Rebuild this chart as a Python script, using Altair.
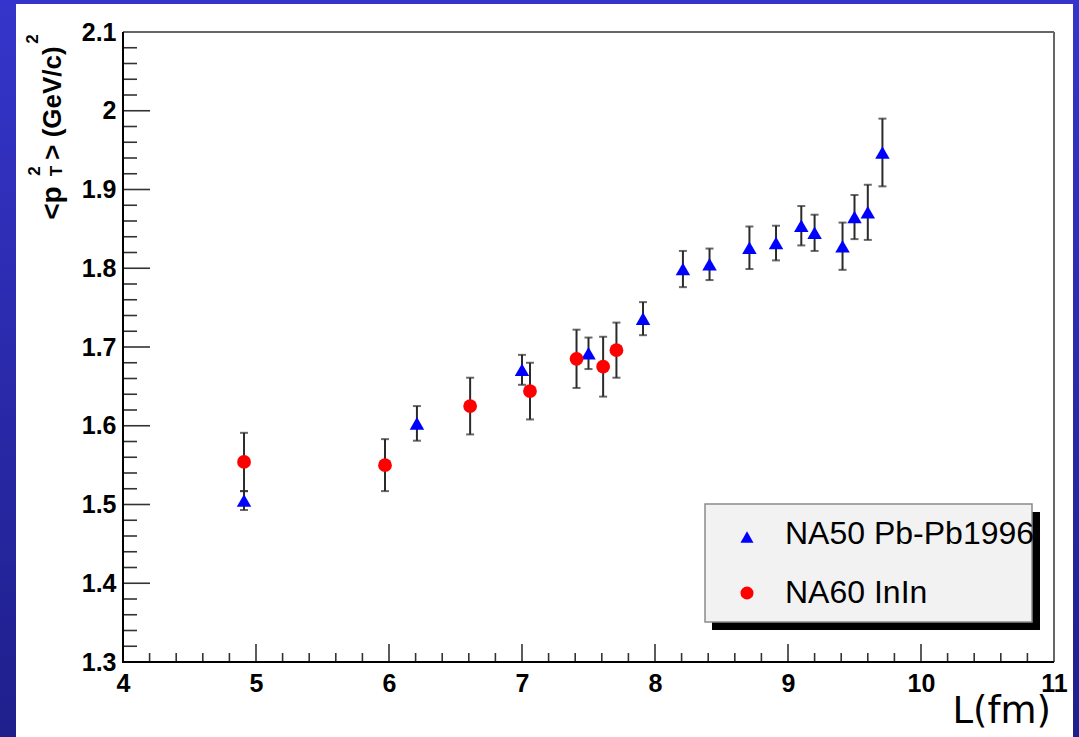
import altair as alt
import pandas as pd

# NA50 Pb-Pb 1996: path length L (fm), <pT^2> (GeV/c)^2 and its error
na50_L = [4.91, 6.21, 7.0, 7.5, 7.91, 8.21, 8.41, 8.71, 8.91, 9.1, 9.2, 9.41, 9.5, 9.6, 9.71]
na50_pt2 = [1.505, 1.603, 1.671, 1.692, 1.736, 1.799, 1.805, 1.826, 1.832, 1.854,
            1.845, 1.828, 1.865, 1.871, 1.947]
na50_err = [0.012, 0.022, 0.019, 0.020, 0.021, 0.023, 0.020, 0.027, 0.022, 0.025,
            0.023, 0.030, 0.028, 0.035, 0.043]

# NA60 In-In
na60_L = [4.91, 5.97, 6.61, 7.06, 7.41, 7.61, 7.71]
na60_pt2 = [1.554, 1.550, 1.625, 1.644, 1.685, 1.675, 1.696]
na60_err = [0.037, 0.033, 0.036, 0.036, 0.037, 0.038, 0.035]

# axis ticks
X_MAJOR = [4, 5, 6, 7, 8, 9, 10, 11]
Y_MAJOR = [1.3, 1.4, 1.5, 1.6, 1.7, 1.8, 1.9, 2.0, 2.1]
X_MINOR = [round(m + k * 0.2, 2) for m in X_MAJOR[:-1] for k in range(1, 5)]
Y_MINOR = [round(m + k * 0.02, 3) for m in Y_MAJOR[:-1] for k in range(1, 5)]

LEGEND_LABELS = ["NA50 Pb-Pb1996", "NA60 InIn"]

W, H = 931, 630
PAD = {"left": 123, "top": 32, "right": 25, "bottom": 75}

XS = alt.Scale(domain=[4, 11], nice=False, zero=False)
YS = alt.Scale(domain=[1.3, 2.1], nice=False, zero=False)
XA = alt.Axis(title=None, domain=False, ticks=False, tickSize=0, grid=False,
              values=X_MAJOR, format="d", labelFont="Liberation Sans",
              labelFontWeight="bold", labelFontSize=25, labelColor="black",
              labelPadding=9, labelFlush=False, labelOverlap=False, zindex=1)
YA = alt.Axis(title=None, domain=False, ticks=False, tickSize=0, grid=False,
              values=Y_MAJOR, format="~g", labelFont="Liberation Sans",
              labelFontWeight="bold", labelFontSize=25, labelColor="black",
              labelPadding=7, labelFlush=False, labelOverlap=False, zindex=1)

na50 = pd.DataFrame({"L": na50_L, "v": na50_pt2, "e": na50_err})
na50["lo"] = na50["v"] - na50["e"]
na50["hi"] = na50["v"] + na50["e"]
na60 = pd.DataFrame({"L": na60_L, "v": na60_pt2, "e": na60_err})
na60["lo"] = na60["v"] - na60["e"]
na60["hi"] = na60["v"] + na60["e"]

one = pd.DataFrame({"k": [0]})

def xq(f):
    return alt.X(f"{f}:Q", scale=XS, axis=XA)

def yq(f):
    return alt.Y(f"{f}:Q", scale=YS, axis=YA)

# slide background and white panel
bg = alt.Chart(one).mark_rect(
    color=alt.Gradient(gradient="linear",
                       stops=[alt.GradientStop(color="#3535cb", offset=0),
                              alt.GradientStop(color="#1f1f8c", offset=1)],
                       x1=0, x2=0, y1=0, y2=1)
).encode(x=alt.value(-PAD["left"]), x2=alt.value(W + PAD["right"]),
         y=alt.value(-PAD["top"]), y2=alt.value(H + PAD["bottom"]))
panel = alt.Chart(one).mark_rect(color="white").encode(
    x=alt.value(16 - PAD["left"]), x2=alt.value(1073 - PAD["left"]),
    y=alt.value(4 - PAD["top"]), y2=alt.value(H + PAD["bottom"]))

# frame: grey top/right, black axes left/bottom
frame_top = alt.Chart(one).mark_rule(color="#666666", strokeWidth=2).encode(
    x=alt.value(0), x2=alt.value(W), y=alt.value(0))
frame_right = alt.Chart(one).mark_rule(color="#666666", strokeWidth=2).encode(
    x=alt.value(W), y=alt.value(0), y2=alt.value(H))
axis_left = alt.Chart(one).mark_rule(color="black", strokeWidth=2).encode(
    x=alt.value(0), y=alt.value(0), y2=alt.value(H + 1))
axis_bottom = alt.Chart(one).mark_rule(color="black", strokeWidth=2).encode(
    x=alt.value(-1), x2=alt.value(W), y=alt.value(H))

# inward ticks
tick_style = dict(color="#333333", strokeWidth=1.6)
xt_major = alt.Chart(pd.DataFrame({"t": X_MAJOR})).mark_rule(**tick_style).encode(
    x=xq("t"), y=alt.value(H - 18), y2=alt.value(H))
xt_minor = alt.Chart(pd.DataFrame({"t": X_MINOR})).mark_rule(**tick_style).encode(
    x=xq("t"), y=alt.value(H - 9), y2=alt.value(H))
yt_major = alt.Chart(pd.DataFrame({"t": Y_MAJOR})).mark_rule(**tick_style).encode(
    y=yq("t"), x=alt.value(0), x2=alt.value(27))
yt_minor = alt.Chart(pd.DataFrame({"t": Y_MINOR})).mark_rule(**tick_style).encode(
    y=yq("t"), x=alt.value(0), x2=alt.value(14))

def series(df, shape, color, size):
    bars = alt.Chart(df).mark_rule(color="#2a2a2a", strokeWidth=2).encode(
        x=xq("L"), y=yq("lo"), y2="hi")
    cap_lo = alt.Chart(df).mark_tick(color="#2a2a2a", orient="horizontal",
                                     size=8, thickness=2).encode(x=xq("L"), y=yq("lo"))
    cap_hi = alt.Chart(df).mark_tick(color="#2a2a2a", orient="horizontal",
                                     size=8, thickness=2).encode(x=xq("L"), y=yq("hi"))
    pts = alt.Chart(df).mark_point(shape=shape, filled=True, color=color,
                                   size=size, opacity=1, strokeWidth=0).encode(
        x=xq("L"), y=yq("v"))
    return bars, cap_lo, cap_hi, pts

na50_layers = series(na50, "triangle-up", "#0000ff", 210)
na60_layers = series(na60, "circle", "#ff0000", 190)

# legend box with drop shadow
L0 = PAD["left"]
T0 = PAD["top"]
shadow = alt.Chart(one).mark_rect(color="black").encode(
    x=alt.value(712 - L0), x2=alt.value(1040 - L0),
    y=alt.value(512 - T0), y2=alt.value(630 - T0))
box = alt.Chart(one).mark_rect(fill="#f2f2f2", stroke="#8a8a8a", strokeWidth=1.5).encode(
    x=alt.value(705 - L0), x2=alt.value(1032 - L0),
    y=alt.value(504 - T0), y2=alt.value(622 - T0))
leg_tri = alt.Chart(one).mark_point(shape="triangle-up", filled=True, color="#0000ff",
                                    size=170, opacity=1, strokeWidth=0).encode(
    x=alt.value(747 - L0), y=alt.value(537 - T0))
leg_dot = alt.Chart(one).mark_point(shape="circle", filled=True, color="#ff0000",
                                    size=170, opacity=1, strokeWidth=0).encode(
    x=alt.value(747 - L0), y=alt.value(593 - T0))
leg_txt = alt.Chart(pd.DataFrame({"s": LEGEND_LABELS, "yy": [544 - T0, 603 - T0]})).mark_text(
    font="Liberation Sans", fontSize=32, color="black", align="left",
    baseline="alphabetic").encode(x=alt.value(785 - L0), y=alt.Y("yy:Q", scale=None),
                                  text="s:N")

# rotated y-axis title <p_T^2> (GeV/c)^2
def rtext(s, yabs, xabs, size):
    return alt.Chart(pd.DataFrame({"s": [s]})).mark_text(
        font="Liberation Sans", fontWeight="bold", fontSize=size, angle=270,
        align="center", baseline="alphabetic", color="black").encode(
        x=alt.value(xabs - L0), y=alt.value(yabs - T0), text="s:N")

ytitle = [
    rtext("<p", 203, 61, 28),
    rtext("T", 171, 62, 17),
    rtext("2", 171, 40, 17),
    rtext("> (GeV/c)", 103, 61, 26),
    rtext("2", 39, 38, 17),
]

xtitle = alt.Chart(pd.DataFrame({"s": ["L(fm)"]})).mark_text(
    font="DejaVu Sans", fontSize=37, align="right", baseline="alphabetic",
    color="black").encode(x=alt.value(1051 - L0), y=alt.value(723 - T0), text="s:N")

chart = alt.layer(
    bg, panel,
    xt_major, xt_minor, yt_major, yt_minor,
    frame_top, frame_right, axis_left, axis_bottom,
    *na50_layers[:3], *na60_layers[:3], na50_layers[3], na60_layers[3],
    shadow, box, leg_tri, leg_dot, leg_txt,
    *ytitle, xtitle,
).properties(
    width=W, height=H, padding=PAD,
    autosize=alt.AutoSizeParams(type="none"),
    background="#2a2aa8",
).configure_view(stroke=None)

chart.save("out.html", embed_options={"renderer": "svg", "actions": False})
